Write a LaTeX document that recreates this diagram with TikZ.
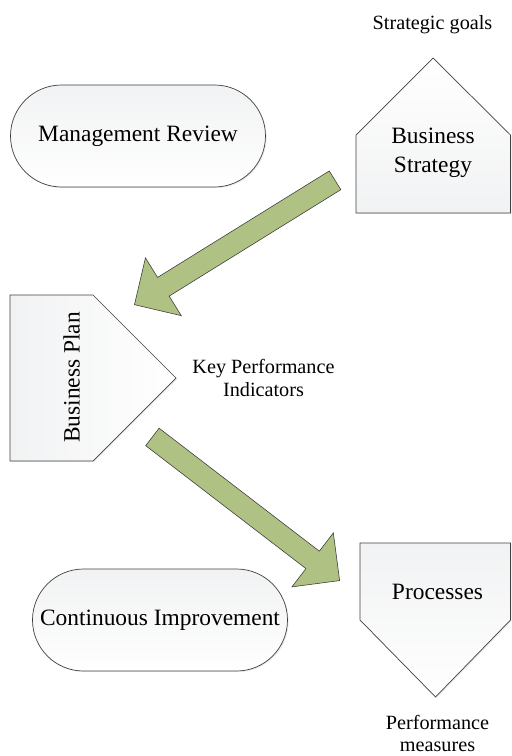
\documentclass[tikz,border=0pt]{standalone}
\usepackage{fontspec}
\setmainfont{Liberation Serif}
\usetikzlibrary{shadows}
\definecolor{edgegray}{HTML}{404040}
\definecolor{leafgreen}{HTML}{B0C283}
\definecolor{paper}{HTML}{F1F2F3}

\begin{document}
\begin{tikzpicture}[
  x=1bp, y=-1bp,
  block/.style={draw=edgegray, line width=0.7bp, drop shadow={shadow xshift=1.2bp, shadow yshift=-1.2bp, opacity=0.15}},
  pill/.style={block, rounded corners=51bp, minimum width=255bp, minimum height=102bp, inner sep=0pt, top color=paper, bottom color=white, font=\fontsize{23.5}{29}\selectfont},
  bigtext/.style={font=\fontsize{23.5}{29}\selectfont, align=center},
  smalltext/.style={font=\fontsize{20.3}{23}\selectfont, align=center},
  fatarrow/.style={draw=edgegray, line width=0.6bp, fill=leafgreen}
]
  \useasboundingbox (0,0) rectangle (512,756);

  % strategy and review
  \node[smalltext, anchor=base] (goals) at (432.5,30) {Strategic goals};
  \node[pill] (review) at (138,136) {Management Review};
  \draw[block, top color=white, bottom color=paper] (356,213) -- (356,135) -- (433,58) -- (510.5,135) -- (510.5,213) -- cycle;
  \node[bigtext] (strategy) at (433,152.5) {Business\\Strategy};

  % plan
  \draw[block, left color=paper, right color=white] (10,295) -- (93,295) -- (176,378) -- (93,461) -- (10,461) -- cycle;
  \node[bigtext, rotate=90, anchor=base] (plan) at (79.5,377.5) {Business Plan};
  \node[smalltext] (kpi) at (263.5,378) {Key Performance\\Indicators};

  % processes and improvement
  \node[pill] (improve) at (160,620) {Continuous Improvement};
  \draw[block, top color=paper, bottom color=white] (360,543) -- (510.5,543) -- (510.5,620) -- (435.5,697) -- (360,620) -- cycle;
  \node[bigtext, anchor=base] (processes) at (437.5,599.5) {Processes};
  \node[smalltext] (measures) at (437.5,733.5) {Performance\\measures};

  % big green arrows
  \draw[fatarrow, shift={(234.75,242.5)}, rotate=211.8] (-118,-11) -- (84,-11) -- (84,-34) -- (118,0) -- (84,34) -- (84,11) -- (-118,11) -- cycle;
  \draw[fatarrow, shift={(246,508.75)}, rotate=-37.5] (-118,-11) -- (84,-11) -- (84,-34) -- (118,0) -- (84,34) -- (84,11) -- (-118,11) -- cycle;
\end{tikzpicture}
\end{document}
